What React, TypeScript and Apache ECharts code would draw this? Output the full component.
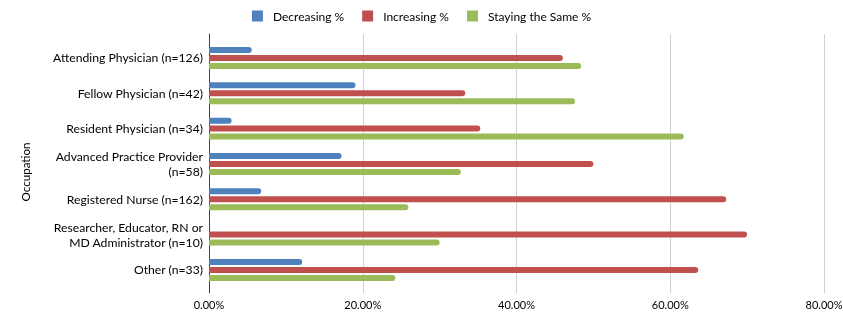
import React, { useEffect, useRef } from "react";
import * as echarts from "echarts";

const categories = [
  "Attending Physician (n=126)",
  "Fellow Physician (n=42)",
  "Resident Physician (n=34)",
  "Advanced Practice Provider\n(n=58)",
  "Registered Nurse (n=162)",
  "Researcher, Educator, RN or\nMD Administrator (n=10)",
  "Other (n=33)",
];
const decreasing = [5.56, 19.05, 2.94, 17.24, 6.79, 0, 12.12];
const increasing = [46.03, 33.33, 35.29, 50.0, 67.28, 70.0, 63.64];
const stayingSame = [48.41, 47.62, 61.76, 32.76, 25.93, 30.0, 24.24];
const seriesNames = ["Decreasing %", "Increasing %", "Staying the Same %"];
const colors = ["#4F81BD", "#C0504D", "#9BBB59"];
const FONT = "Lato";

export default function App() {
  const ref = useRef<HTMLDivElement>(null);
  useEffect(() => {
    if (!ref.current) return;
    const chart = echarts.init(ref.current, undefined, { renderer: "svg" });
    const data = [decreasing, increasing, stayingSame];
    chart.setOption({
      animation: false,
      textStyle: { fontFamily: FONT },
      legend: {
        top: 5,
        left: "center",
        itemWidth: 11,
        itemHeight: 11,
        itemGap: 18,
        icon: "rect",
        textStyle: {
          fontFamily: FONT,
          fontSize: 12,
          color: "#000",
          padding: [0, 0, 0, 5],
        },
        data: seriesNames,
      },
      grid: [
        {
          left: 209,
          right: 19,
          top: 40.3,
          height: 247.3,
          containLabel: false,
          outerBoundsMode: "none",
        },
        {
          left: 209,
          right: 19,
          top: 34,
          height: 259,
          containLabel: false,
          outerBoundsMode: "none",
        },
      ],
      xAxis: [
        {
          type: "value",
          gridIndex: 0,
          min: 0,
          max: 80,
          interval: 20,
          show: false,
        },
        {
          type: "value",
          gridIndex: 1,
          min: 0,
          max: 80,
          interval: 20,
          axisLine: { show: false },
          axisTick: { show: false },
          splitLine: { show: true, lineStyle: { color: "#D0D0D0", width: 1 } },
          axisLabel: {
            formatter: (v: number) => v.toFixed(2) + "%",
            fontFamily: FONT,
            fontSize: 11,
            color: "#000",
            margin: 6,
          },
        },
      ],
      yAxis: [
        {
          type: "category",
          gridIndex: 0,
          inverse: true,
          data: categories,
          axisLine: { show: false },
          axisTick: { show: false },
          splitLine: { show: false },
          axisLabel: {
            fontFamily: FONT,
            fontSize: 12.2,
            color: "#000",
            margin: 6,
            lineHeight: 15,
            align: "right",
          },
        },
        {
          type: "value",
          gridIndex: 1,
          min: 0,
          max: 1,
          axisLine: { show: true, lineStyle: { color: "#404040", width: 1 } },
          axisTick: { show: false },
          axisLabel: { show: false },
          splitLine: { show: false },
        },
      ],
      graphic: [
        {
          type: "text",
          x: 25,
          y: 172,
          rotation: Math.PI / 2,
          style: {
            text: "Occupation",
            fontFamily: FONT,
            fontSize: 11.6,
            fill: "#000",
            align: "center",
            verticalAlign: "middle",
          },
        },
      ],
      series: seriesNames.map((name, i) => ({
        name,
        type: "bar",
        xAxisIndex: 0,
        yAxisIndex: 0,
        data: data[i],
        barWidth: 6,
        barGap: "33%",
        z: 3,
        itemStyle: { color: colors[i], borderRadius: [0, 3, 3, 0] },
      })),
    });
    return () => chart.dispose();
  }, []);
  return (
    <div
      ref={ref}
      style={{ position: "fixed", left: 0, top: 0, width: 843, height: 330 }}
    />
  );
}
